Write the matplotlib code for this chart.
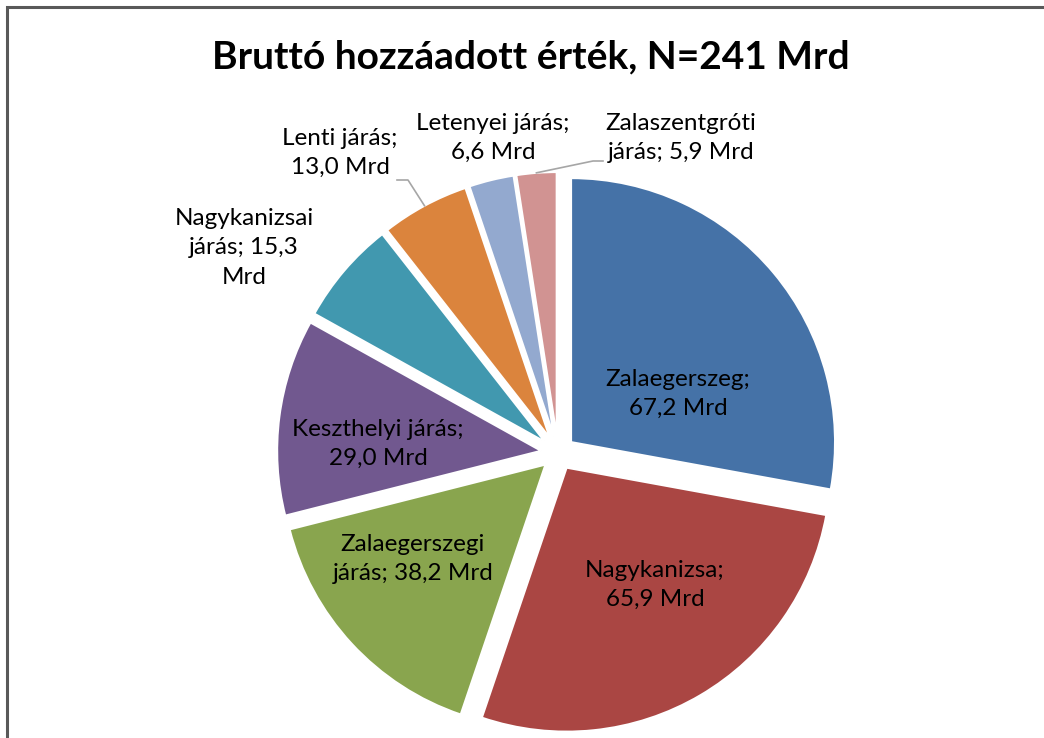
import math
import matplotlib.pyplot as plt
from matplotlib.patches import Rectangle

# adatok (Mrd Ft)
names = ['Zalaegerszeg', 'Nagykanizsa', 'Zalaegerszegi járás', 'Keszthelyi járás',
         'Nagykanizsai járás', 'Lenti járás', 'Letenyei járás', 'Zalaszentgróti járás']
values = [67.2, 65.9, 38.2, 29.0, 15.3, 13.0, 6.6, 5.9]
colors = ['#4572A7', '#AA4643', '#89A54E', '#71588F', '#4198AF', '#DB843D', '#93A9CF', '#D19392']

# cimke szovegek (sortoresek az eredeti szerint)
label_lines = [
    'Zalaegerszeg;\n{v}',
    'Nagykanizsa;\n{v}',
    'Zalaegerszegi\njárás; {v}',
    'Keszthelyi járás;\n{v}',
    'Nagykanizsai\njárás; {v0}\nMrd',
    'Lenti járás;\n{v}',
    'Letenyei járás;\n{v}',
    'Zalaszentgróti\njárás; {v}',
]
# cimkek kozeppontja pixelben (x, y felulrol)
label_pos = [(678, 394), (655, 585), (413, 559), (378, 444),
             (244, 248), (340, 153), (493, 138), (681, 138)]

W, H = 1044, 738
fig = plt.figure(figsize=(W / 100, H / 100), dpi=100)
ax = fig.add_axes([0, 0, 1, 1])

font = ['Lato', 'DejaVu Sans']

wedges, _ = ax.pie(values, colors=colors, startangle=90, counterclock=False,
                   center=(558, H - 453), radius=264, explode=[17] * len(values),
                   wedgeprops=dict(edgecolor='white', linewidth=1.5), frame=True)
ax.set_xlim(0, W)
ax.set_ylim(0, H)
ax.set_aspect('equal')
ax.axis('off')

for i, (txt, (lx, ly)) in enumerate(zip(label_lines, label_pos)):
    v = f'{values[i]:.1f}'.replace('.', ',')
    s = txt.format(v=v + ' Mrd', v0=v)
    ax.text(lx, H - ly, s, ha='center', va='center', fontsize=17.5,
            family=font, linespacing=1.5, color='#000000')

# vezetovonalak a kis szeletekhez
knees = {5: [(397, 180), (408, 180)], 7: [(603, 161), (593, 161)]}
for i, pts in knees.items():
    w = wedges[i]
    th = math.radians((w.theta1 + w.theta2) / 2)
    cx, cy = w.center
    ex, ey = cx + w.r * math.cos(th), cy + w.r * math.sin(th)
    xs = [p[0] for p in pts] + [ex]
    ys = [H - p[1] for p in pts] + [ey]
    ax.plot(xs, ys, color='#A6A6A6', lw=1.2)

fig.text(531 / W, 1 - 57 / H, 'Bruttó hozzáadott érték, N=241 Mrd', ha='center',
         va='center', fontsize=28, fontweight='bold', family=font)

fig.patches.append(Rectangle((7 / W, -0.1), 1.2, 1 - 7 / H + 0.1, transform=fig.transFigure,
                             fill=False, edgecolor='#595959', lw=2.2))

fig.savefig('out.png', dpi=100, facecolor='white')
